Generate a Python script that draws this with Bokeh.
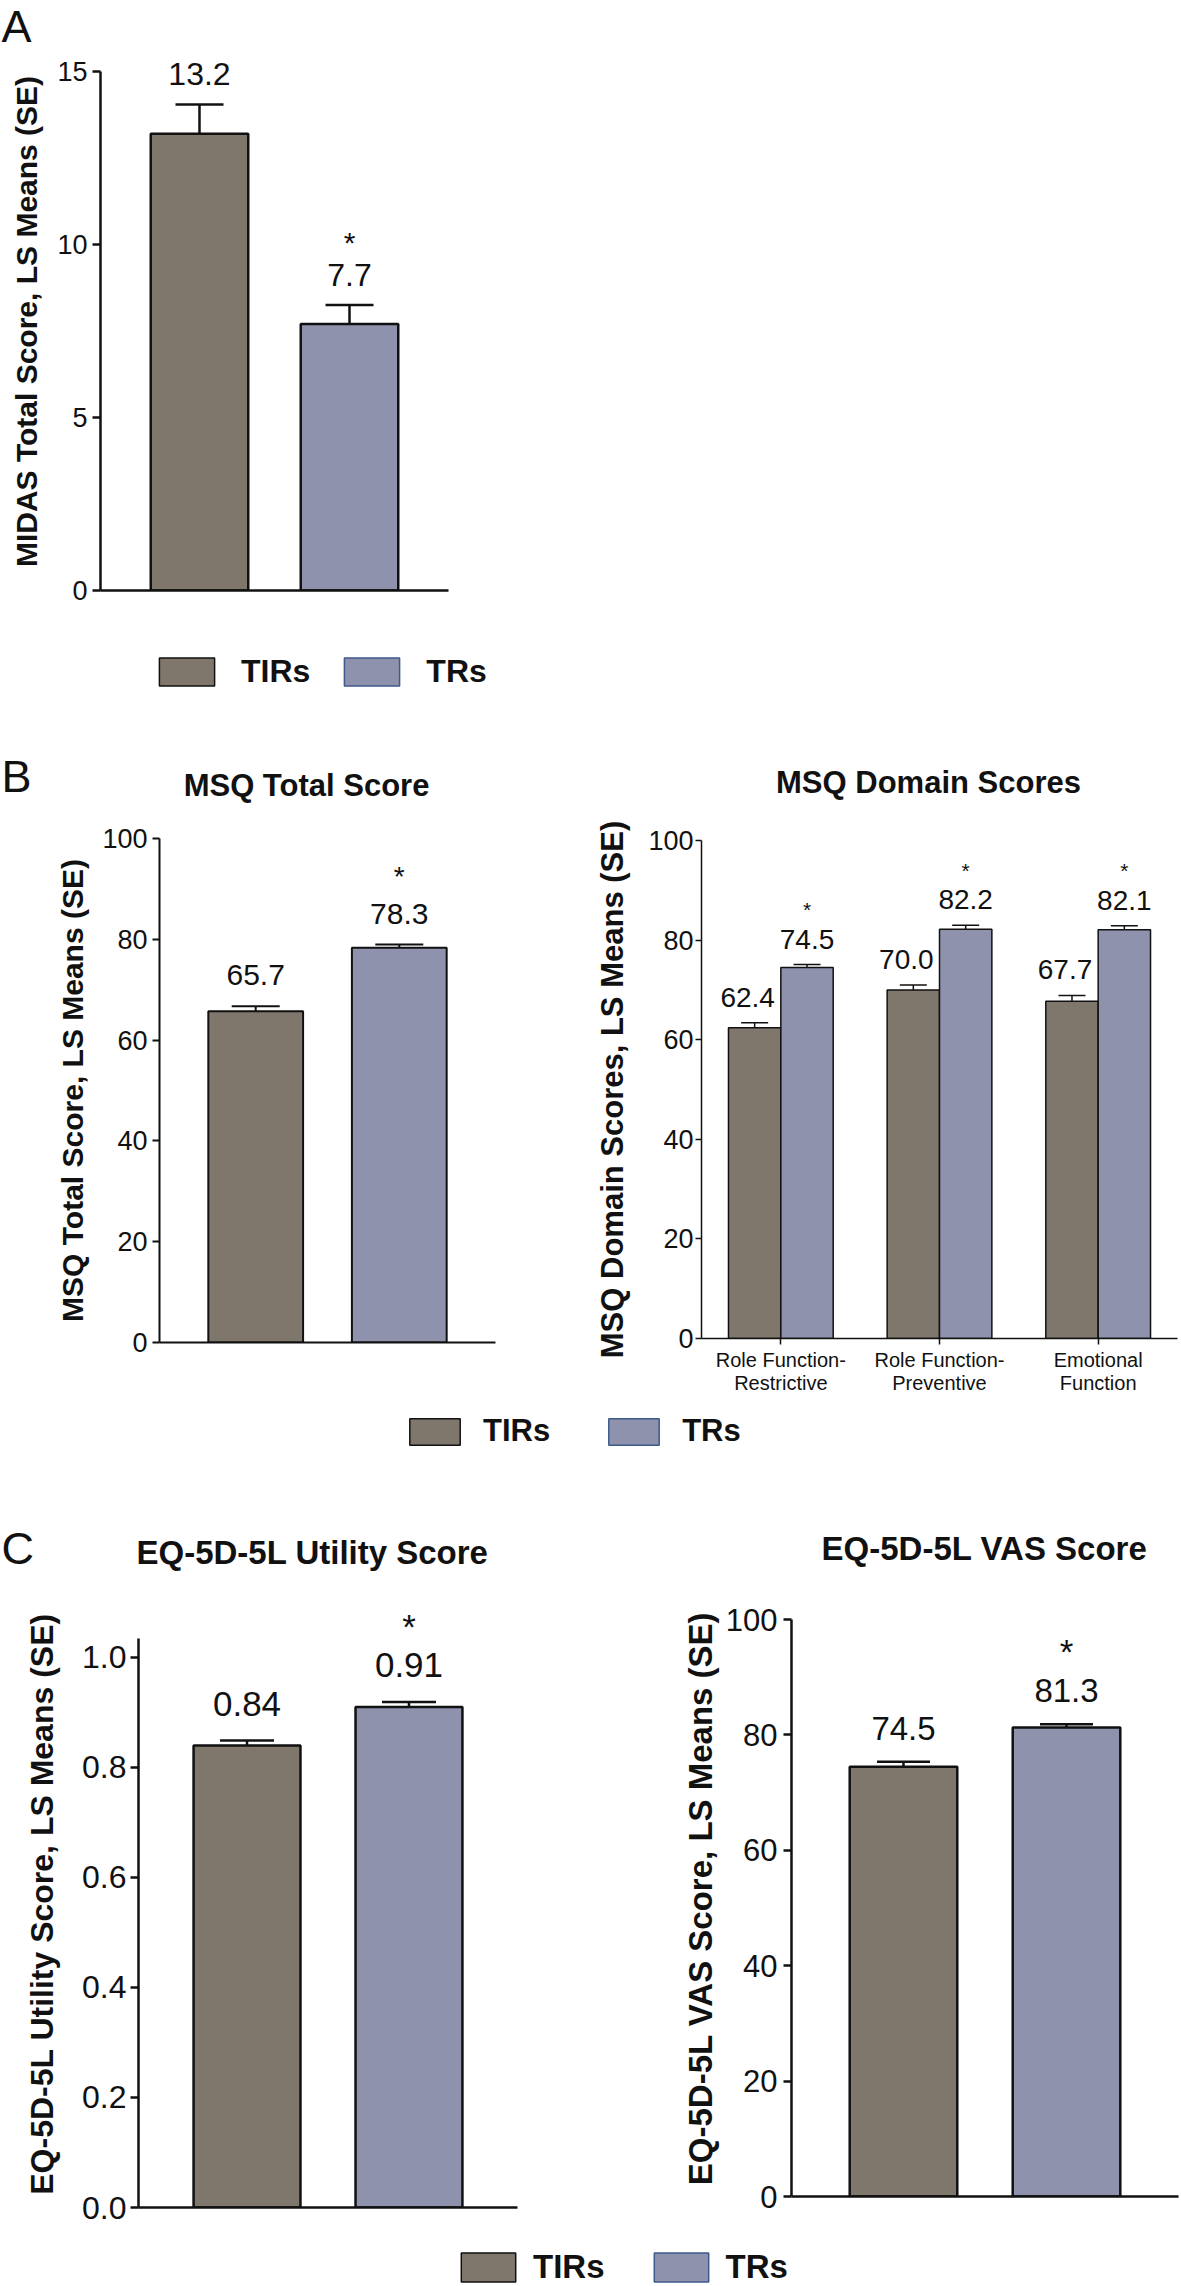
from bokeh.plotting import figure
from bokeh.models import (ColumnDataSource, FactorRange, Range1d, Whisker, TeeHead, LabelSet,
                          Legend, LegendItem, FixedTicker, NumeralTickFormatter)
from bokeh.layouts import column, row
from bokeh.transform import dodge
from bokeh.embed import file_html
from bokeh.resources import INLINE
from bokeh.core.properties import value, field

FONT = "Liberation Sans"
INK = "#111111"
C_TIR = "#7F766C"
C_TR = "#8E92AD"
C_TR_LEGEND_EDGE = "#3D5A8A"

# ---------------- data ----------------
groups = ["TIRs", "TRs"]
bar_colors = [C_TIR, C_TR]
legend_edges = [INK, C_TR_LEGEND_EDGE]

panel_letters = ["A", "B", "C"]
chart_titles = ["MSQ Total Score", "MSQ Domain Scores",
                "EQ-5D-5L Utility Score", "EQ-5D-5L VAS Score"]

# A: MIDAS
midas_mean = [13.2, 7.7]
midas_se = [0.85, 0.55]
midas_sig = [False, True]

# B: MSQ total
msq_total_mean = [65.7, 78.3]
msq_total_se = [1.0, 0.65]
msq_total_sig = [False, True]

# B: MSQ domains
msq_domains = ["Role Function-\nRestrictive", "Role Function-\nPreventive", "Emotional\nFunction"]
msq_tir_mean = [62.4, 70.0, 67.7]
msq_tir_se = [1.0, 1.0, 1.2]
msq_tr_mean = [74.5, 82.2, 82.1]
msq_tr_se = [0.6, 0.8, 0.8]
msq_tr_sig = [True, True, True]

# C: EQ-5D-5L
eq_util_mean = [0.84, 0.91]
eq_util_se = [0.009, 0.009]
eq_util_sig = [False, True]

eq_vas_mean = [74.5, 81.3]
eq_vas_se = [0.85, 0.55]
eq_vas_sig = [False, True]

PAGE_W = 1181


def base_fig(width, height, x_range, y_range, left, right, top, bottom):
    p = figure(width=width, height=height, x_range=x_range, y_range=y_range,
               output_backend="svg", toolbar_location=None,
               min_border_left=left, min_border_right=right,
               min_border_top=top, min_border_bottom=bottom)
    p.xgrid.visible = False
    p.ygrid.visible = False
    p.outline_line_color = None
    p.background_fill_color = "white"
    p.border_fill_color = "white"
    return p


def style_axes(p, ticks, bounds, ylabel, tick_font, tick_len, tick_standoff, label_font,
               label_standoff, lw, fmt=None, hide_x=True):
    ay = p.yaxis[0]
    ay.ticker = FixedTicker(ticks=ticks)
    ay.bounds = bounds
    if fmt:
        ay.formatter = NumeralTickFormatter(format=fmt)
    ay.axis_label = ylabel
    ay.axis_label_text_font = FONT
    ay.axis_label_text_font_style = "bold"
    ay.axis_label_text_font_size = f"{label_font}px"
    ay.axis_label_text_color = INK
    ay.axis_label_standoff = label_standoff
    ay.major_label_text_font = FONT
    ay.major_label_text_font_size = f"{tick_font}px"
    ay.major_label_text_color = INK
    ay.major_label_standoff = tick_standoff
    ay.major_tick_out = tick_len
    ay.major_tick_in = 0
    ay.major_tick_line_width = lw
    ay.major_tick_line_color = INK
    ay.minor_tick_line_color = None
    ay.axis_line_width = lw
    ay.axis_line_color = INK
    ax = p.xaxis[0]
    ax.axis_line_width = lw
    ax.axis_line_color = INK
    ax.minor_tick_line_color = None
    if hide_x:
        ax.major_tick_line_color = None
        ax.major_label_text_color = None
        ax.major_label_standoff = 0


def band(height, texts, legend=None):
    """Full-width strip holding panel letters, chart titles and legends (y grows downward)."""
    p = figure(width=PAGE_W, height=height, x_range=Range1d(0, PAGE_W), y_range=Range1d(height, 0),
               x_axis_type=None, y_axis_type=None, output_backend="svg",
               toolbar_location=None, min_border=0, outline_line_color=None)
    if texts:
        src = ColumnDataSource(dict(
            x=[t[1] for t in texts], y=[t[2] for t in texts], text=[t[0] for t in texts],
            size=[f"{t[3]}px" for t in texts], style=[t[4] for t in texts],
            align=[t[5] for t in texts]))
        p.text(x="x", y="y", text="text", source=src, text_font=value(FONT),
               text_font_size=field("size"), text_font_style=field("style"),
               text_align=field("align"), text_baseline="middle", text_color=INK)
    if legend:
        loc, gw, gh, standoff, spacing, font_px = legend
        lsrc = ColumnDataSource(dict(x=[0, 0], top=[0, 0], fill=bar_colors, edge=legend_edges))
        r = p.vbar(x="x", top="top", width=0, source=lsrc, fill_color="fill",
                   line_color="edge", line_width=1.5)
        r.visible = False
        leg = Legend(items=[LegendItem(label=value(g), renderers=[r], index=i)
                            for i, g in enumerate(groups)],
                     location=loc, orientation="horizontal",
                     glyph_width=gw, glyph_height=gh, label_standoff=standoff,
                     spacing=spacing, padding=0, margin=0,
                     border_line_color=None, background_fill_alpha=0,
                     inactive_fill_alpha=0,
                     label_text_font=FONT, label_text_font_style="bold",
                     label_text_font_size=f"{font_px}px", label_text_color=INK)
        p.add_layout(leg)
    return p


def two_bar_chart(width, height, borders, y_end, ticks, bounds, fmt, means, ses, sig, decimals,
                  ylabel, tick_font, tick_len, tick_standoff, label_font, label_standoff,
                  lw, bar_width, pad, cap, val_font, val_off, star_font, star_off):
    left, right, top, bottom = borders
    p = base_fig(width, height, FactorRange(factors=groups, range_padding=pad),
                 Range1d(0, y_end), left, right, top, bottom)
    upper = [m + s for m, s in zip(means, ses)]
    src = ColumnDataSource(dict(g=groups, mean=means, upper=upper, color=bar_colors,
                                txt=[f"{m:.{decimals}f}" for m in means]))
    p.vbar(x="g", top="mean", width=bar_width, source=src, fill_color="color",
           line_color=INK, line_width=lw)
    p.add_layout(Whisker(base="g", upper="upper", lower="mean", source=src,
                         dimension="height", line_color=INK, line_width=lw,
                         upper_head=TeeHead(size=cap, line_color=INK, line_width=lw),
                         lower_head=None))
    p.add_layout(LabelSet(x="g", y="upper", text="txt", source=src, y_offset=val_off,
                          text_align="center", text_baseline="middle",
                          text_font=value(FONT), text_font_size=f"{val_font}px",
                          text_color=INK))
    star_src = ColumnDataSource(dict(
        g=[g for g, s in zip(groups, sig) if s],
        upper=[u for u, s in zip(upper, sig) if s],
        txt=["*" for s in sig if s]))
    p.add_layout(LabelSet(x="g", y="upper", text="txt", source=star_src, y_offset=star_off,
                          text_align="center", text_baseline="middle",
                          text_font=value(FONT), text_font_size=f"{star_font}px",
                          text_color=INK))
    style_axes(p, ticks, bounds, ylabel, tick_font, tick_len, tick_standoff, label_font,
               label_standoff, lw, fmt)
    return p


# ---------------- Panel A ----------------
bandA = band(52, [(panel_letters[0], 1, 26, 45, "normal", "left")])

figA = two_bar_chart(PAGE_W, 588, (100, 733, 0, 50), 15.55, [0, 5, 10, 15], (0, 15), None,
                     midas_mean, midas_se, midas_sig, 1,
                     "MIDAS Total Score, LS Means (SE)",
                     27, 8, 5, 30, 11, 2.5, 0.65, 0.16, 48, 32, 30, 30, 63)

bandAB = band(175, [(panel_letters[1], 1, 136, 45, "normal", "left"),
                    (chart_titles[0], 306, 145, 31, "bold", "center"),
                    (chart_titles[1], 928, 142, 31, "bold", "center")],
              legend=((152, 125), 69, 35, 20, 27, 32))

# ---------------- Panel B ----------------
figB1 = two_bar_chart(560, 590, (159, 65, 23, 63), 100, [0, 20, 40, 60, 80, 100], (0, 100), None,
                      msq_total_mean, msq_total_se, msq_total_sig, 1,
                      "MSQ Total Score, LS Means (SE)",
                      27, 7, 5, 30, 10, 2, 0.66, 0.17, 48, 30, 31, 28, 68)

figB2 = base_fig(621, 590, FactorRange(factors=msq_domains), Range1d(0, 100), 141, 4, 25, 67)
tir_upper = [m + s for m, s in zip(msq_tir_mean, msq_tir_se)]
tr_upper = [m + s for m, s in zip(msq_tr_mean, msq_tr_se)]
src_tir = ColumnDataSource(dict(d=msq_domains, mean=msq_tir_mean, upper=tir_upper,
                                txt=[f"{m:.1f}" for m in msq_tir_mean]))
src_tr = ColumnDataSource(dict(d=msq_domains, mean=msq_tr_mean, upper=tr_upper,
                               txt=[f"{m:.1f}" for m in msq_tr_mean]))
src_tr_star = ColumnDataSource(dict(d=[d for d, s in zip(msq_domains, msq_tr_sig) if s],
                                    upper=[u for u, s in zip(tr_upper, msq_tr_sig) if s],
                                    txt=["*" for s in msq_tr_sig if s]))
for src, off, col in ((src_tir, -0.165, C_TIR), (src_tr, 0.165, C_TR)):
    xd = dodge("d", off, range=figB2.x_range)
    figB2.vbar(x=xd, top="mean", width=0.33, source=src, fill_color=col,
               line_color=INK, line_width=1.5)
    figB2.add_layout(Whisker(base=xd, upper="upper", lower="mean", source=src,
                             dimension="height", line_color=INK, line_width=1.5,
                             upper_head=TeeHead(size=27, line_color=INK, line_width=1.5),
                             lower_head=None))
    figB2.add_layout(LabelSet(x=xd, y="upper", text="txt", source=src, y_offset=25.5,
                              x_offset=-7 if off < 0 else 0,
                              text_align="center", text_baseline="middle",
                              text_font=value(FONT), text_font_size="28px", text_color=INK))
figB2.add_layout(LabelSet(x=dodge("d", 0.165, range=figB2.x_range), y="upper", text="txt",
                          source=src_tr_star, y_offset=55, text_align="center",
                          text_baseline="middle", text_font=value(FONT),
                          text_font_size="21px", text_color=INK))
style_axes(figB2, [0, 20, 40, 60, 80, 100], (0, 100), "MSQ Domain Scores, LS Means (SE)",
           27, 6, 2, 31, 15, 1.5, hide_x=False)
axB2 = figB2.xaxis[0]
axB2.major_tick_out = 6
axB2.major_tick_in = 0
axB2.major_tick_line_color = INK
axB2.major_tick_line_width = 1.5
axB2.major_label_text_font = FONT
axB2.major_label_text_font_size = "20px"
axB2.major_label_text_color = INK
axB2.major_label_standoff = 4
axB2.major_label_text_line_height = 1.05

bandBC = band(185, [(panel_letters[2], 1, 143, 45, "normal", "left"),
                    (chart_titles[2], 312, 147, 33, "bold", "center"),
                    (chart_titles[3], 984, 143, 33, "bold", "center")],
              legend=((403, 141), 63, 33, 17, 52, 31))

# ---------------- Panel C ----------------
figC1 = two_bar_chart(600, 650, (138, 83, 10, 33), 1.1036, [0, 0.2, 0.4, 0.6, 0.8, 1.0],
                      (0, 1.035), "0.0",
                      eq_util_mean, eq_util_se, eq_util_sig, 2,
                      "EQ-5D-5L Utility Score, LS Means (SE)",
                      32, 8, 4, 32, 19, 2.5, 0.66, 0.17, 54, 35, 37, 35, 76)

figC2 = two_bar_chart(581, 650, (191, 3, 10, 44), 103.3, [0, 20, 40, 60, 80, 100], (0, 100), None,
                      eq_vas_mean, eq_vas_se, eq_vas_sig, 1,
                      "EQ-5D-5L VAS Score, LS Means (SE)",
                      31, 8, 6, 33, 4, 2.5, 0.66, 0.187, 53, 33, 33.5, 35, 73)

bandC = band(46, [], legend=((454, 0), 68, 36, 11, 42, 33))

# every plot gets its own wrapper so that Bokeh does not align their frames
layout = column(
    row(bandA),
    row(figA),
    row(bandAB),
    row(column(figB1), column(figB2)),
    row(bandBC),
    row(column(figC1), column(figC2)),
    row(bandC),
)

with open("out.html", "w") as f:
    f.write(file_html(layout, INLINE, title="TIRs vs TRs"))
